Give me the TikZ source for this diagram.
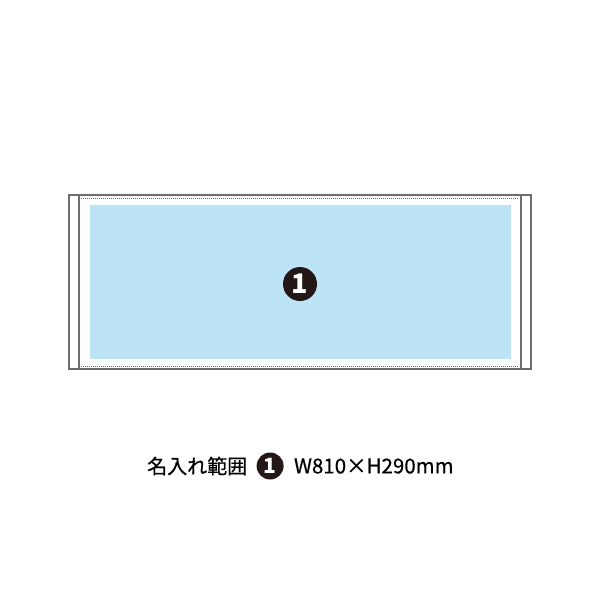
\documentclass[tikz,border=0pt]{standalone}
\usepackage{fontspec}
\setmainfont{Noto Sans CJK JP}
\newfontfamily\captionfont[FakeBold=0.6]{Noto Sans CJK JP}
\usetikzlibrary{positioning}
\definecolor{printblue}{HTML}{BDE3F7}
\definecolor{inkblack}{HTML}{231815}
\definecolor{framegray}{HTML}{6E6E6E}

\begin{document}
\begin{tikzpicture}[x=1pt,y=-1pt,
    frame/.style={draw=framegray, line width=1.3pt},
    seam/.style={draw=framegray!90!black, line width=1pt, dash pattern=on 1pt off 1pt},
    badge/.style={circle, fill=inkblack, text=white, inner sep=0pt, font=\bfseries}]
    \useasboundingbox (0,0) rectangle (600,600);

    % towel
    \draw [frame] (69,195) rectangle (531,369);
    \draw [frame] (79,195) -- (79,369);
    \draw [frame] (521,195) -- (521,369);
    \draw [seam] (81,198) -- (519,198);
    \draw [seam] (81,366) -- (519,366);

    % print area
    \fill [printblue] (90,205) rectangle (511,359);
    \node (area) [badge, minimum size=34pt, font=\bfseries\fontsize{27}{27}\selectfont] at (300,284) {1};

    % caption
    \node (label) [anchor=west, inner sep=0pt, font=\captionfont\fontsize{20}{20}\selectfont] at (147,466) {名入れ範囲};
    \node (mark) [badge, minimum size=27pt, font=\bfseries\fontsize{21}{21}\selectfont, right=9pt of label] {1};
    \node (size) [anchor=west, inner sep=0pt, font=\captionfont\fontsize{20.5}{20.5}\selectfont, right=10pt of mark] {W810×H290mm};
\end{tikzpicture}
\end{document}
